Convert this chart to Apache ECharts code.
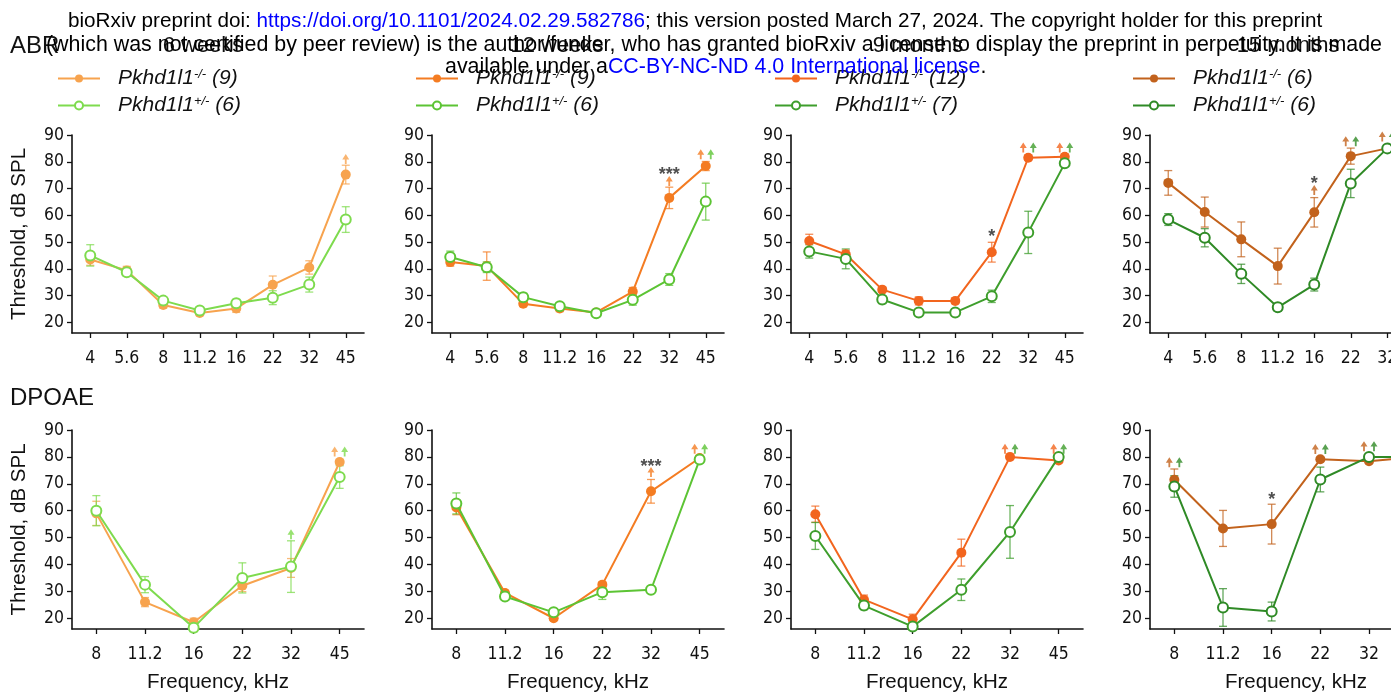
<!DOCTYPE html>
<html>
<head>
<meta charset="utf-8">
<script src="https://cdn.jsdelivr.net/npm/echarts@6/dist/echarts.min.js"></script>
<style>
  html, body { margin: 0; padding: 0; background: #fff; }
  #main { width: 1391px; height: 697px; }
</style>
</head>
<body>
<div id="main"></div>
<script>
// frequencies (kHz)
const abrFreq = ['4', '5.6', '8', '11.2', '16', '22', '32', '45'];
const dpFreq = ['8', '11.2', '16', '22', '32', '45'];

// ABR thresholds, dB SPL  (Ko = Pkhd1l1-/-, Het = Pkhd1l1+/-)
const abr6wKo = [43.5, 39.4, 26.5, 23.5, 25.2, 34, 40.5, 75.2];
const abr6wKoErr = [2.2, 1.5, 1.2, 1, 1.5, 3.3, 2.5, 3.5];
const abr6wHet = [45, 38.7, 28.1, 24.4, 27.1, 29.2, 34.1, 58.4];
const abr6wHetErr = [4, 1.5, 1.2, 0.8, 1.5, 2.6, 2.8, 4.8];
const abr6wKoUp = [[7, 81]];
const abr6wHetUp = [];
const abr6wSig = [];

const abr12wKo = [42.5, 41, 26.9, 25.2, 23.7, 31.5, 66.5, 78.4];
const abr12wKoErr = [1.5, 5.3, 1, 1.2, 1, 1.5, 4, 1.7];
const abr12wHet = [44.4, 40.6, 29.4, 26, 23.4, 28.4, 36, 65.1];
const abr12wHetErr = [2.2, 2, 1.5, 1, 1, 2, 2.2, 6.9];
const abr12wKoUp = [[6, 72.8], [7, 82.8]];
const abr12wHetUp = [[7, 82.8]];
const abr12wSig = [[6, 75, '***']];

const abr9mKo = [50.4, 45.4, 32.2, 28, 28, 46.2, 81.5, 81.9];
const abr9mKoErr = [2.5, 1.5, 1, 1.5, 1, 3.7, 1, 1];
const abr9mHet = [46.5, 43.7, 28.5, 23.7, 23.7, 29.7, 53.6, 79.4];
const abr9mHetErr = [2.5, 3.7, 1.5, 1, 1, 2.3, 7.9, 1];
const abr9mKoUp = [[6, 85.3], [7, 85.3]];
const abr9mHetUp = [[6, 85.3], [7, 85.3]];
const abr9mSig = [[5, 52, '*']];

const abr15mKo = [72.1, 61.2, 51, 41, 61.1, 82.1, 85, 85.5];
const abr15mKoErr = [4.6, 5.6, 6.5, 6.7, 5.5, 3, 0.8, 0.5];
const abr15mHet = [58.4, 51.6, 38.1, 25.6, 34.1, 71.9, 85, 85];
const abr15mHetErr = [2.2, 3.4, 3.6, 1.5, 2.4, 5.3, 0.5, 0.5];
const abr15mKoUp = [[4, 69.4], [5, 87.7], [6, 89.4], [7, 89.4]];
const abr15mHetUp = [[5, 87.7], [6, 89.4], [7, 89.4]];
const abr15mSig = [[4, 71.8, '*']];

// DPOAE thresholds, dB SPL
const dp6wKo = [59, 26, 18.5, 32.1, 38.7, 78.1];
const dp6wKoErr = [4.5, 1.7, 1.5, 2.2, 3.5, 1];
const dp6wHet = [60, 32.5, 16.5, 35, 39.2, 72.5];
const dp6wHetErr = [5.6, 3, 1.5, 5.6, 9.6, 4.2];
const dp6wKoUp = [[5, 82]];
const dp6wHetUp = [[4, 51.2], [5, 82]];
const dp6wSig = [];

const dp12wKo = [61.2, 29.4, 20, 32.5, 67.2, 79.6];
const dp12wKoErr = [2.7, 1, 0.8, 1, 4.4, 1];
const dp12wHet = [62.7, 28.1, 22.2, 29.7, 30.6, 79];
const dp12wHetErr = [3.9, 1, 1, 2.7, 1, 1];
const dp12wKoUp = [[4, 74.4], [5, 83]];
const dp12wHetUp = [[5, 83]];
const dp12wSig = [[4, 76.2, '***']];

const dp9mKo = [58.7, 26.9, 19.6, 44.4, 80, 78.7];
const dp9mKoErr = [3, 1.7, 1.9, 5, 0.5, 0.8];
const dp9mHet = [50.6, 24.7, 16.9, 30.6, 52.1, 80];
const dp9mHetErr = [5, 1.5, 1, 4, 9.8, 0.5];
const dp9mKoUp = [[4, 83], [5, 83]];
const dp9mHetUp = [[4, 83], [5, 83]];
const dp9mSig = [];

const dp15mKo = [71.5, 53.4, 55, 79.1, 78.4, 80];
const dp15mKoErr = [4, 6.7, 7.4, 0.8, 0.8, 0.5];
const dp15mHet = [69, 24, 22.5, 71.6, 80, 80];
const dp15mHetErr = [4, 7, 3.5, 4.6, 0.5, 0.5];
const dp15mKoUp = [[0, 78], [3, 82.9], [4, 84], [5, 84]];
const dp15mHetUp = [[0, 78], [3, 82.9], [4, 84], [5, 84]];
const dp15mSig = [[2, 64, '*']];

// group sizes shown in legends
const ages = ['6 weeks', '12 weeks', '9 months', '15 months'];
const nKo = [9, 9, 12, 6];
const nHet = [6, 6, 7, 6];

const koColors = ['#F7A34E', '#F47C22', '#F2651E', '#C2621C'];
const hetColors = ['#7EDB4E', '#5CC434', '#3E9E2C', '#2F8A26'];

const FONT = "'Liberation Sans', Arial, sans-serif";
const NARROW = "'Liberation Sans Narrow', 'Arial Narrow', 'DejaVu Sans Condensed', sans-serif";

const gridLeft = [72, 432, 791, 1150];
const titleX = [203, 557, 918, 1288];
const legendLeft = [52, 410, 769, 1127];

const ARROW = 'path://M5 0L10 6H6.3V11H3.7V6H0Z';

function errorRender(color) {
  return function (params, api) {
    const lo = api.coord([api.value(0), api.value(1)]);
    const hi = api.coord([api.value(0), api.value(2)]);
    const w = 4;
    const st = { stroke: color, lineWidth: 1.3, opacity: 0.75 };
    return {
      type: 'group',
      children: [
        { type: 'line', shape: { x1: lo[0], y1: lo[1], x2: hi[0], y2: hi[1] }, style: st },
        { type: 'line', shape: { x1: lo[0] - w, y1: lo[1], x2: lo[0] + w, y2: lo[1] }, style: st },
        { type: 'line', shape: { x1: hi[0] - w, y1: hi[1], x2: hi[0] + w, y2: hi[1] }, style: st }
      ]
    };
  };
}

const grids = [], xAxes = [], yAxes = [], series = [], legends = [];
const legendNames = {};

function addPanel(gi, row, col, cats, ko, koErr, het, hetErr, koUp, hetUp, sig) {
  const cKo = koColors[col], cHet = hetColors[col];
  grids.push({
    left: gridLeft[col], width: 292,
    top: row === 0 ? 135 : 430, height: row === 0 ? 198 : 199,
    containLabel: false, outerBoundsMode: 'none'
  });
  xAxes.push({
    type: 'category', gridIndex: gi, data: cats, boundaryGap: true,
    name: row === 1 ? 'Frequency, kHz' : '', nameLocation: 'middle', nameGap: 43,
    nameTextStyle: { fontFamily: FONT, fontSize: 20.5, color: '#111' },
    axisLine: { lineStyle: { color: '#111', width: 1.6 } },
    axisTick: { show: true, alignWithLabel: true, length: 5, lineStyle: { color: '#111', width: 1.3 } },
    axisLabel: { interval: 0, margin: 16, fontFamily: NARROW, fontSize: 17.5, color: '#111', hideOverlap: false },
    splitLine: { show: false }
  });
  yAxes.push({
    type: 'value', gridIndex: gi, min: 16, max: 90,
    name: col === 0 ? 'Threshold, dB SPL' : '', nameLocation: 'middle', nameGap: 42, nameRotate: 90,
    nameTextStyle: { fontFamily: FONT, fontSize: 20.5, color: '#111' },
    axisLine: { show: true, lineStyle: { color: '#111', width: 1.6 } },
    axisTick: { show: true, length: 5, customValues: [20, 30, 40, 50, 60, 70, 80, 90], lineStyle: { color: '#111', width: 1.3 } },
    axisLabel: { margin: 8, fontFamily: NARROW, fontSize: 17.5, color: '#111', customValues: [20, 30, 40, 50, 60, 70, 80, 90] },
    splitLine: { show: false }
  });

  const koName = 'ko' + gi, hetName = 'het' + gi;
  legendNames[koName] = '{p|Pkhd1l1}{s|-/-}{a| (' + nKo[col] + ')}';
  legendNames[hetName] = '{p|Pkhd1l1}{s|+/-}{a| (' + nHet[col] + ')}';
  if (row === 0) {
    legends.push({
      orient: 'vertical', left: legendLeft[col], top: 63, itemWidth: 42, itemHeight: 10, itemGap: 6,
      data: [koName, hetName],
      formatter: n => legendNames[n],
      textStyle: {
        fontFamily: FONT, fontSize: 21, fontStyle: 'italic', color: '#111',
        rich: {
          p: { fontFamily: FONT, fontSize: 21, fontStyle: 'italic', color: '#111', padding: [0, 0, 0, 13] },
          s: { fontFamily: FONT, fontSize: 13, fontStyle: 'italic', color: '#111', verticalAlign: 'top', lineHeight: 13 },
          a: { fontFamily: FONT, fontSize: 21, fontStyle: 'italic', color: '#111' }
        }
      }
    });
  }

  series.push({
    type: 'custom', xAxisIndex: gi, yAxisIndex: gi, renderItem: errorRender(cKo), z: 2,
    data: ko.map((v, i) => [i, v - koErr[i], v + koErr[i]])
  });
  series.push({
    type: 'custom', xAxisIndex: gi, yAxisIndex: gi, renderItem: errorRender(cHet), z: 2,
    data: het.map((v, i) => [i, v - hetErr[i], v + hetErr[i]])
  });
  series.push({
    type: 'line', name: koName, xAxisIndex: gi, yAxisIndex: gi, data: ko,
    symbol: 'circle', symbolSize: 10, z: 3,
    lineStyle: { width: 2, color: cKo }, itemStyle: { color: cKo }
  });
  series.push({
    type: 'line', name: hetName, xAxisIndex: gi, yAxisIndex: gi, data: het,
    symbol: 'emptyCircle', symbolSize: 10, z: 4,
    lineStyle: { width: 2, color: cHet }, itemStyle: { color: cHet, borderWidth: 1.5 }
  });
  const koIdx = koUp.map(d => d[0]), hetIdx = hetUp.map(d => d[0]);
  koUp.forEach(d => series.push({
    type: 'scatter', xAxisIndex: gi, yAxisIndex: gi, data: [d], symbol: ARROW, symbolSize: [7, 10],
    symbolOffset: [hetIdx.includes(d[0]) ? -5 : 0, 0], itemStyle: { color: cKo }, z: 5
  }));
  hetUp.forEach(d => series.push({
    type: 'scatter', xAxisIndex: gi, yAxisIndex: gi, data: [d], symbol: ARROW, symbolSize: [7, 10],
    symbolOffset: [koIdx.includes(d[0]) ? 5 : 0, 0], itemStyle: { color: cHet }, z: 5
  }));
  if (sig.length) {
    series.push({
      type: 'scatter', xAxisIndex: gi, yAxisIndex: gi, data: sig, symbol: 'circle', symbolSize: 2,
      itemStyle: { color: 'rgba(0,0,0,0)' }, z: 6,
      label: { show: true, position: 'inside', formatter: p => p.data[2], fontFamily: FONT, fontSize: 18, fontWeight: 'bold', color: '#222' }
    });
  }
}

addPanel(0, 0, 0, abrFreq, abr6wKo, abr6wKoErr, abr6wHet, abr6wHetErr, abr6wKoUp, abr6wHetUp, abr6wSig);
addPanel(1, 0, 1, abrFreq, abr12wKo, abr12wKoErr, abr12wHet, abr12wHetErr, abr12wKoUp, abr12wHetUp, abr12wSig);
addPanel(2, 0, 2, abrFreq, abr9mKo, abr9mKoErr, abr9mHet, abr9mHetErr, abr9mKoUp, abr9mHetUp, abr9mSig);
addPanel(3, 0, 3, abrFreq, abr15mKo, abr15mKoErr, abr15mHet, abr15mHetErr, abr15mKoUp, abr15mHetUp, abr15mSig);
addPanel(4, 1, 0, dpFreq, dp6wKo, dp6wKoErr, dp6wHet, dp6wHetErr, dp6wKoUp, dp6wHetUp, dp6wSig);
addPanel(5, 1, 1, dpFreq, dp12wKo, dp12wKoErr, dp12wHet, dp12wHetErr, dp12wKoUp, dp12wHetUp, dp12wSig);
addPanel(6, 1, 2, dpFreq, dp9mKo, dp9mKoErr, dp9mHet, dp9mHetErr, dp9mKoUp, dp9mHetUp, dp9mSig);
addPanel(7, 1, 3, dpFreq, dp15mKo, dp15mKoErr, dp15mHet, dp15mHetErr, dp15mKoUp, dp15mHetUp, dp15mSig);

const titles = [
  { text: 'ABR', left: 10, top: 34, padding: 0, textStyle: { fontFamily: FONT, fontSize: 24, fontWeight: 'normal', color: '#111' } },
  { text: 'DPOAE', left: 10, top: 386, padding: 0, textStyle: { fontFamily: FONT, fontSize: 24, fontWeight: 'normal', color: '#111' } }
];
ages.forEach((a, i) => titles.push({
  text: a, left: titleX[i], textAlign: 'center', top: 35, padding: 0,
  textStyle: { fontFamily: FONT, fontSize: 22, fontWeight: 'normal', color: '#111' }
}));

// preprint header
function hdrStyle(size) {
  return {
    fontFamily: FONT, fontSize: size, fontWeight: 'normal', color: '#000',
    rich: {
      k: { fontFamily: FONT, fontSize: size, color: '#000' },
      b: { fontFamily: FONT, fontSize: size, color: '#0000FF' }
    }
  };
}
titles.push({
  text: '{k|bioRxiv preprint doi: }{b|https://doi.org/10.1101/2024.02.29.582786}{k|; this version posted March 27, 2024. The copyright holder for this preprint}',
  left: 68, top: 11, padding: 0, textStyle: hdrStyle(20.7)
});
titles.push({
  text: '{k|(which was not certified by peer review) is the author/funder, who has granted bioRxiv a license to display the preprint in perpetuity. It is made}',
  left: 46, top: 35, padding: 0, textStyle: hdrStyle(21.4)
});
titles.push({
  text: '{k|available under a}{b|CC-BY-NC-ND 4.0 International license}{k|.}',
  left: 445, top: 57, padding: 0, textStyle: hdrStyle(21.4)
});

const chart = echarts.init(document.getElementById('main'), null, { renderer: 'canvas' });
chart.setOption({
  backgroundColor: '#fff',
  animation: false,
  title: titles,
  legend: legends,
  grid: grids,
  xAxis: xAxes,
  yAxis: yAxes,
  series: series
});
</script>
</body>
</html>
